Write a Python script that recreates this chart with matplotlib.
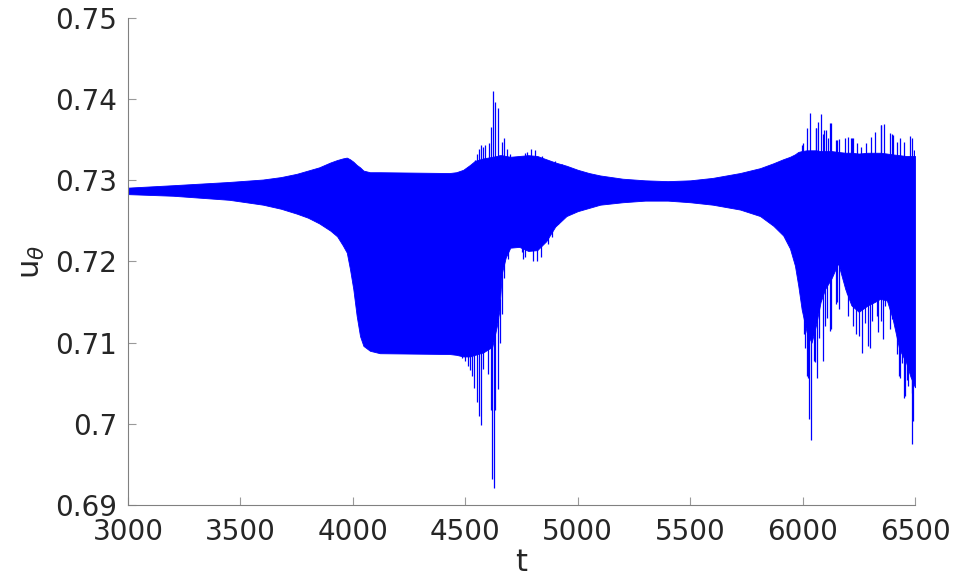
import numpy as np
import matplotlib
matplotlib.use("Agg")
import matplotlib.pyplot as plt

# ---- data (envelope of the dense oscillation) ----
t_env = [3000, 3200, 3450, 3600, 3680, 3750, 3800, 3850, 3900, 3930, 3955, 3973,
         3987, 4002, 4017, 4032, 4047, 4076, 4120, 4430, 4460, 4491, 4521, 4543,
         4580, 4620, 4640, 4652, 4662, 4680, 4700, 4740, 4780, 4820, 4860, 4900,
         4950, 5000, 5050, 5100, 5200, 5300, 5400, 5500, 5600, 5722, 5811, 5870,
         5914, 5944, 5966, 5981, 5996, 6018, 6040, 6060, 6080, 6100, 6130, 6158,
         6190, 6217, 6250, 6290, 6320, 6345, 6375, 6400, 6430, 6460, 6480, 6500]
upper_env = [0.7291, 0.7294, 0.7298, 0.7301, 0.7304, 0.7308, 0.7312, 0.7316, 0.7322,
             0.7325, 0.7327, 0.7328, 0.7326, 0.7323, 0.7319, 0.7316, 0.7312, 0.7310,
             0.7310, 0.7309, 0.7310, 0.7313, 0.7319, 0.7324, 0.7327, 0.7329, 0.7330,
             0.7331, 0.7331, 0.7330, 0.7329, 0.7330, 0.7331, 0.7330, 0.7326, 0.7322,
             0.7318, 0.7313, 0.7309, 0.7306, 0.7302, 0.7300, 0.7299, 0.7300, 0.7303,
             0.7309, 0.7315, 0.7321, 0.7326, 0.7329, 0.7332, 0.7335, 0.7336, 0.7337,
             0.7337, 0.7337, 0.7336, 0.7336, 0.7336, 0.7335, 0.7334, 0.7334, 0.7333,
             0.7334, 0.7334, 0.7334, 0.7333, 0.7332, 0.7331, 0.7330, 0.7330, 0.7330]
lower_env = [0.7283, 0.7281, 0.7276, 0.7270, 0.7265, 0.7259, 0.7254, 0.7247, 0.7238,
             0.7231, 0.7220, 0.7211, 0.7191, 0.7166, 0.7133, 0.7108, 0.7096, 0.7090,
             0.7087, 0.7086, 0.7085, 0.7083, 0.7083, 0.7085, 0.7088, 0.7095, 0.7120,
             0.7140, 0.7185, 0.7205, 0.7217, 0.7218, 0.7213, 0.7214, 0.7225, 0.7243,
             0.7256, 0.7262, 0.7266, 0.7270, 0.7273, 0.7275, 0.7275, 0.7273, 0.7270,
             0.7264, 0.7256, 0.7244, 0.7232, 0.7216, 0.7195, 0.7170, 0.7141, 0.7113,
             0.7100, 0.7122, 0.7150, 0.7166, 0.7180, 0.7198, 0.7166, 0.7146, 0.7138,
             0.7146, 0.7150, 0.7154, 0.7152, 0.7130, 0.7092, 0.7076, 0.7058, 0.7045]

# individual peaks sticking out above the band
t_peak_hi = [4543, 4552, 4561, 4570, 4580, 4588, 4607, 4614, 4625, 4632, 4647, 4665,
             4672, 4684, 4699, 4765, 4773, 4792, 4810, 4840, 4862, 4899, 4929,
             5996, 6003, 6021, 6033, 6058, 6060, 6067, 6082, 6092, 6095, 6102, 6114,
             6122, 6125, 6147, 6151, 6162, 6188, 6200, 6215, 6218, 6225, 6240, 6260,
             6280, 6304, 6322, 6347, 6351, 6363, 6389, 6396, 6403, 6418, 6433, 6452,
             6478, 6485, 6497]
v_peak_hi = [0.73247, 0.73330, 0.73392, 0.73441, 0.73413, 0.73433, 0.73462, 0.73661,
             0.74106, 0.73970, 0.73889, 0.73475, 0.73516, 0.73392, 0.73330, 0.73339,
             0.73350, 0.73392, 0.73371, 0.73297, 0.73247, 0.73240, 0.73206,
             0.73433, 0.73454, 0.73640, 0.73825, 0.73648, 0.73640, 0.73714, 0.73812,
             0.73565, 0.73619, 0.73619, 0.73516, 0.73701, 0.73710, 0.73495, 0.73495,
             0.73507, 0.73516, 0.73537, 0.73516, 0.73516, 0.73516, 0.73454, 0.73413,
             0.73466, 0.73537, 0.73598, 0.73680, 0.73680, 0.73689, 0.73586, 0.73577,
             0.73557, 0.73475, 0.73524, 0.73475, 0.73549, 0.73524, 0.73371]

# individual troughs sticking out below the band
t_peak_lo = [4484, 4499, 4511, 4521, 4531, 4540, 4551, 4561, 4570, 4580, 4602, 4614,
             4620, 4629, 4632, 4644, 4654, 4662, 4669, 4674, 4689, 4713, 4728, 4743,
             4751, 4758, 4765, 4773, 4783, 4795, 4802, 4817, 4837, 4854, 4869, 4884,
             4896, 4914, 4931,
             6006, 6013, 6018, 6022, 6030, 6038, 6051, 6055, 6063, 6073, 6089, 6100,
             6107, 6122, 6125, 6148, 6151, 6162, 6196, 6203, 6225, 6238, 6251, 6263,
             6277, 6292, 6300, 6307, 6329, 6337, 6349, 6359, 6366, 6389, 6396, 6418,
             6428, 6433, 6441, 6452, 6455, 6463, 6470, 6478, 6485, 6488, 6491]
v_peak_lo = [0.70815, 0.70773, 0.70711, 0.70658, 0.70587, 0.70444, 0.70266, 0.70092,
             0.69990, 0.70670, 0.70608, 0.70175, 0.69318, 0.69207, 0.70175, 0.70423,
             0.70992, 0.71351, 0.72176, 0.71792, 0.72031, 0.72258, 0.72238, 0.72402,
             0.72114, 0.72031, 0.72052, 0.72155, 0.72402, 0.72349, 0.72010, 0.72010,
             0.72052, 0.72402, 0.72217, 0.72300, 0.72567, 0.72464, 0.72547,
             0.71103, 0.70938, 0.70587, 0.70567, 0.70060, 0.69804, 0.70773, 0.70757,
             0.70567, 0.71062, 0.70773, 0.71206, 0.71310, 0.71144, 0.71170, 0.71474,
             0.71500, 0.71412, 0.71598, 0.71330, 0.71206, 0.71103, 0.71082, 0.70877,
             0.71248, 0.70958, 0.70938, 0.71268, 0.71330, 0.71130, 0.71268, 0.71041,
             0.71453, 0.71165, 0.71289, 0.70856, 0.70587, 0.70567, 0.70753, 0.70320,
             0.70340, 0.70546, 0.70464, 0.70670, 0.69755, 0.70382, 0.70030]

x_ticks = [3000, 3500, 4000, 4500, 5000, 5500, 6000, 6500]
y_ticks = [0.69, 0.70, 0.71, 0.72, 0.73, 0.74, 0.75]
y_tick_labels = ["0.69", "0.7", "0.71", "0.72", "0.73", "0.74", "0.75"]

# ---- drawing ----
BLUE = "#0000ff"
fig = plt.figure(figsize=(9.57, 5.84), dpi=100)
ax = fig.add_axes([128 / 957, 1 - 505 / 584, (915 - 128) / 957, (505 - 18) / 584])

ax.fill_between(t_env, lower_env, upper_env, color=BLUE, linewidth=0.6, edgecolor=BLUE)

center_hi = np.interp(t_peak_hi, t_env, upper_env) - 0.0005
ax.vlines(t_peak_hi, center_hi, v_peak_hi, color=BLUE, linewidth=0.9)
center_lo = np.interp(t_peak_lo, t_env, lower_env) + 0.0005
ax.vlines(t_peak_lo, v_peak_lo, center_lo, color=BLUE, linewidth=0.9)

ax.set_xlim(3000, 6500)
ax.set_ylim(0.69, 0.75)
ax.set_xticks(x_ticks)
ax.set_xticklabels([str(v) for v in x_ticks])
ax.set_yticks(y_ticks)
ax.set_yticklabels(y_tick_labels)

for s in ["top", "right"]:
    ax.spines[s].set_visible(False)
for s in ["left", "bottom"]:
    ax.spines[s].set_color("#808080")
    ax.spines[s].set_linewidth(0.8)

ax.tick_params(axis="both", direction="in", length=6, width=0.8, color="#9a9a9a",
               labelsize=20, labelcolor="#262626")
ax.tick_params(axis="y", pad=8)
ax.tick_params(axis="x", pad=9)

ax.set_xlabel("t", fontsize=22, color="#262626", labelpad=2)
ax.set_ylabel(r"$\mathregular{u}_\theta$", fontsize=22, color="#262626", labelpad=6)

fig.savefig("out.png", dpi=100)
